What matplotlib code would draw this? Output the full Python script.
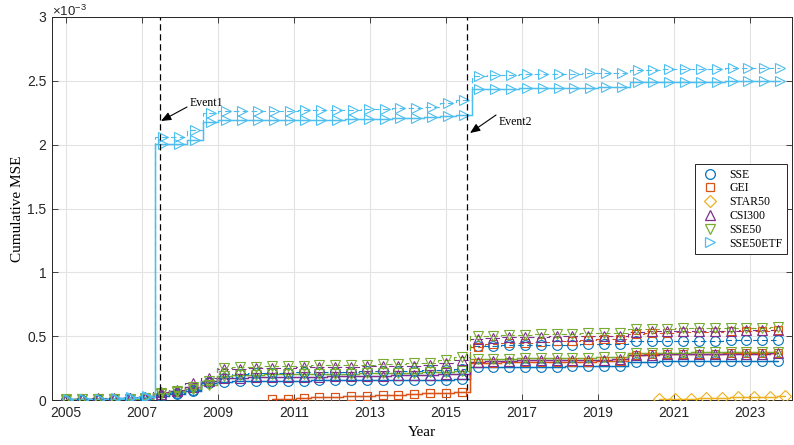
import numpy as np
import matplotlib
matplotlib.use('Agg')
import matplotlib.pyplot as plt
from matplotlib.lines import Line2D

plt.rcParams['mathtext.fontset'] = 'custom'
plt.rcParams['mathtext.rm'] = 'Liberation Sans'
plt.rcParams['mathtext.it'] = 'Liberation Sans'
plt.rcParams['font.family'] = ['Liberation Sans', 'DejaVu Sans']

# ---------------- data (values in units of 1e-3) ----------------
step = 5 / 12            # marker spacing in years
start_main = 2005.0
start_gei = 2010.4167
start_star = 2020.61
start_etf = 2005.05

sse_lo = [0.000, 0.002, 0.003, 0.004, 0.005, 0.008, 0.030, 0.050, 0.070, 0.130, 0.140, 0.145, 0.150,
          0.150, 0.151, 0.152, 0.153, 0.154, 0.155, 0.155, 0.156, 0.157, 0.158, 0.159, 0.160, 0.165,
          0.255, 0.258, 0.260, 0.260, 0.262, 0.262, 0.264, 0.265, 0.265, 0.268,
          0.298, 0.300, 0.302, 0.303, 0.304, 0.305, 0.305, 0.306, 0.307, 0.308]
sse_hi = [0.000, 0.003, 0.004, 0.005, 0.007, 0.010, 0.035, 0.055, 0.080, 0.140, 0.170, 0.200, 0.210,
          0.212, 0.214, 0.216, 0.218, 0.220, 0.222, 0.224, 0.226, 0.228, 0.230, 0.232, 0.235, 0.245,
          0.420, 0.425, 0.428, 0.430, 0.430, 0.432, 0.433, 0.435, 0.436, 0.438,
          0.460, 0.462, 0.463, 0.464, 0.465, 0.466, 0.467, 0.468, 0.469, 0.470]

gei_lo = [0.005, 0.010, 0.016, 0.021, 0.026, 0.031, 0.034, 0.037, 0.042, 0.050, 0.052, 0.057, 0.065,
          0.290, 0.292, 0.294, 0.295, 0.296, 0.297, 0.298, 0.300, 0.302, 0.305,
          0.355, 0.358, 0.360, 0.362, 0.363, 0.364, 0.365, 0.366, 0.367, 0.368]
gei_hi = [0.005, 0.010, 0.016, 0.021, 0.026, 0.031, 0.034, 0.037, 0.042, 0.050, 0.052, 0.057, 0.065,
          0.418, 0.440, 0.445, 0.450, 0.455, 0.460, 0.465, 0.470, 0.475, 0.480,
          0.520, 0.525, 0.528, 0.530, 0.532, 0.535, 0.538, 0.540, 0.542, 0.545]

star_lo = [0.005, 0.005, 0.006, 0.012, 0.017, 0.020, 0.021, 0.025, 0.030]

csi_lo = [0.005, 0.008, 0.010, 0.010, 0.012, 0.015, 0.050, 0.070, 0.100, 0.150, 0.170, 0.175, 0.178,
          0.180, 0.180, 0.182, 0.184, 0.185, 0.186, 0.188, 0.190, 0.192, 0.195, 0.198, 0.200, 0.205,
          0.300, 0.305, 0.308, 0.310, 0.310, 0.312, 0.313, 0.315, 0.316, 0.318,
          0.350, 0.355, 0.357, 0.358, 0.360, 0.360, 0.362, 0.363, 0.364, 0.365]
csi_hi = [0.008, 0.010, 0.012, 0.014, 0.016, 0.020, 0.060, 0.080, 0.130, 0.170, 0.240, 0.245, 0.250,
          0.252, 0.254, 0.256, 0.258, 0.260, 0.262, 0.264, 0.266, 0.268, 0.270, 0.275, 0.290, 0.310,
          0.480, 0.485, 0.490, 0.495, 0.497, 0.500, 0.500, 0.502, 0.503, 0.505,
          0.535, 0.538, 0.540, 0.540, 0.542, 0.543, 0.544, 0.545, 0.546, 0.547]

sse50_lo = [0.002, 0.004, 0.005, 0.006, 0.008, 0.010, 0.050, 0.060, 0.090, 0.120, 0.190, 0.195, 0.198,
            0.200, 0.200, 0.202, 0.204, 0.205, 0.206, 0.208, 0.210, 0.212, 0.215, 0.218, 0.220, 0.230,
            0.320, 0.322, 0.325, 0.326, 0.328, 0.330, 0.330, 0.332, 0.334, 0.336,
            0.365, 0.368, 0.370, 0.372, 0.373, 0.374, 0.375, 0.376, 0.377, 0.378]
sse50_hi = [0.004, 0.005, 0.006, 0.008, 0.010, 0.012, 0.055, 0.070, 0.100, 0.150, 0.250, 0.255, 0.260,
            0.265, 0.268, 0.270, 0.272, 0.274, 0.276, 0.278, 0.280, 0.283, 0.286, 0.290, 0.310, 0.340,
            0.500, 0.505, 0.510, 0.512, 0.515, 0.518, 0.520, 0.522, 0.524, 0.525,
            0.555, 0.558, 0.560, 0.562, 0.563, 0.564, 0.565, 0.566, 0.567, 0.568]

etf_lo = [0.003, 0.005, 0.008, 0.010, 0.015, 0.025, 2.005, 2.005, 2.036, 2.180, 2.190,
          2.190, 2.190, 2.190, 2.192, 2.194, 2.195, 2.197, 2.200, 2.200, 2.202, 2.205, 2.208, 2.215, 2.225, 2.235,
          2.435, 2.437, 2.438, 2.440, 2.440, 2.442, 2.444, 2.446, 2.448, 2.450,
          2.488, 2.490, 2.490, 2.492, 2.493, 2.494, 2.495, 2.496, 2.497, 2.498]
etf_hi = [0.005, 0.008, 0.010, 0.015, 0.020, 0.030, 2.062, 2.062, 2.115, 2.246, 2.264,
          2.264, 2.265, 2.266, 2.267, 2.268, 2.270, 2.272, 2.274, 2.276, 2.280, 2.285, 2.290, 2.298, 2.324, 2.350,
          2.540, 2.545, 2.548, 2.550, 2.552, 2.554, 2.556, 2.558, 2.560, 2.565,
          2.585, 2.588, 2.590, 2.592, 2.594, 2.596, 2.598, 2.600, 2.600, 2.602]

event_years = [2007.46, 2015.56]
event_labels = ['Event1', 'Event2']
series_names = ['SSE', 'GEI', 'STAR50', 'CSI300', 'SSE50', 'SSE50ETF']
xtick_years = [2005, 2007, 2009, 2011, 2013, 2015, 2017, 2019, 2021, 2023]
ytick_vals = [0, 0.5, 1, 1.5, 2, 2.5, 3]
ytick_labels = ['0', '0.5', '1', '1.5', '2', '2.5', '3']

# ---------------- styling ----------------
colors = {'SSE': '#0072BD', 'GEI': '#D95319', 'STAR50': '#EDB120',
          'CSI300': '#7E2F8E', 'SSE50': '#77AC30', 'SSE50ETF': '#4DBEEE'}
markers = {'SSE': 'o', 'GEI': 's', 'STAR50': 'D', 'CSI300': '^', 'SSE50': 'v', 'SSE50ETF': '>'}
msizes = {'SSE': 7, 'GEI': 6.3, 'STAR50': 6.3, 'CSI300': 7.5, 'SSE50': 7.5, 'SSE50ETF': 7.5}

series = [
    ('SSE', start_main, [sse_lo, sse_hi]),
    ('GEI', start_gei, [gei_lo, gei_hi]),
    ('STAR50', start_star, [star_lo]),
    ('CSI300', start_main, [csi_lo, csi_hi]),
    ('SSE50', start_main, [sse50_lo, sse50_hi]),
    ('SSE50ETF', start_etf, [etf_lo, etf_hi]),
]

W, H = 794, 445
fig = plt.figure(figsize=(W / 100, H / 100), dpi=100)
ax = fig.add_axes([52 / W, 45 / H, 740 / W, 383 / H])

for name, t0, variants in series:
    c = colors[name]
    for vi, vals in enumerate(variants):
        vals = np.asarray(vals)
        t = t0 + step * np.arange(len(vals))
        if vi == 0:
            ax.plot(t, vals, color=c, lw=2.0, alpha=0.25, drawstyle='steps-mid',
                    solid_capstyle='butt', zorder=2)
            ls = '-'
        else:
            ls = (0, (5, 3))
        ax.plot(t, vals, color=c, lw=0.8, ls=ls, drawstyle='steps-mid', zorder=3)
        ax.plot(t, vals, ls='none', marker=markers[name], ms=msizes[name], mfc='none',
                mec=c, mew=0.8, zorder=4)

for ev in event_years:
    ax.plot([ev, ev], [0, 3], color='black', lw=0.9, ls=(0, (5, 3)), zorder=5)

def px2data(px, py):
    return 2005 + (px - 66.3) / 37.96, (400 - py) / 127.67

arrow_px = [((187, 107), (161, 121)), ((496, 115), (470, 133))]
text_px = [(190, 103), (499, 122)]
for lbl, (tail, head), tp in zip(event_labels, arrow_px, text_px):
    ax.annotate('', xy=px2data(*head), xytext=px2data(*tail),
                arrowprops=dict(arrowstyle='-|>,head_length=0.6,head_width=0.25',
                                color='black', lw=0.8, shrinkA=0, shrinkB=0), zorder=6)
    ax.text(*px2data(*tp), lbl, family='Liberation Serif', fontsize=8.5,
            ha='left', va='center', zorder=6)

ax.set_xlim(2004.623, 2024.117)
ax.set_ylim(0, 3)
ax.set_xticks(xtick_years)
ax.set_xticklabels([str(y) for y in xtick_years])
ax.set_yticks(ytick_vals)
ax.set_yticklabels(ytick_labels)
ax.grid(True, color='#E3E3E3', lw=0.8, zorder=0)
ax.set_axisbelow(True)
ax.tick_params(direction='in', top=True, right=True, length=4, width=0.6,
               color='#262626', labelcolor='#262626', labelsize=10, pad=4)
for s in ax.spines.values():
    s.set_color('#262626')
    s.set_linewidth(0.7)

fig.text(52 / W, 1 - 15.5 / H, r'$\times10^{-3}$', ha='left', va='baseline',
         fontsize=9.5, color='#262626')

ax.set_xlabel('Year', family='Liberation Serif', fontsize=11, labelpad=5)
ax.set_ylabel('Cumulative MSE', family='Liberation Serif', fontsize=11, labelpad=2)

handles = [Line2D([], [], ls='none', marker=markers[n], ms=msizes[n], mfc='none',
                  mec=colors[n], mew=0.9) for n in series_names]
leg = ax.legend(handles, series_names, loc='upper right',
                bbox_to_anchor=(787 / W, 1 - 164 / H), bbox_transform=fig.transFigure,
                prop={'family': 'Liberation Serif', 'size': 8.5}, frameon=True, fancybox=False,
                edgecolor='#262626', framealpha=1, borderpad=0.4, labelspacing=0.15,
                handlelength=1.7, handletextpad=0.8, borderaxespad=0)
leg.get_frame().set_linewidth(0.7)

fig.savefig('out.png', dpi=100)
